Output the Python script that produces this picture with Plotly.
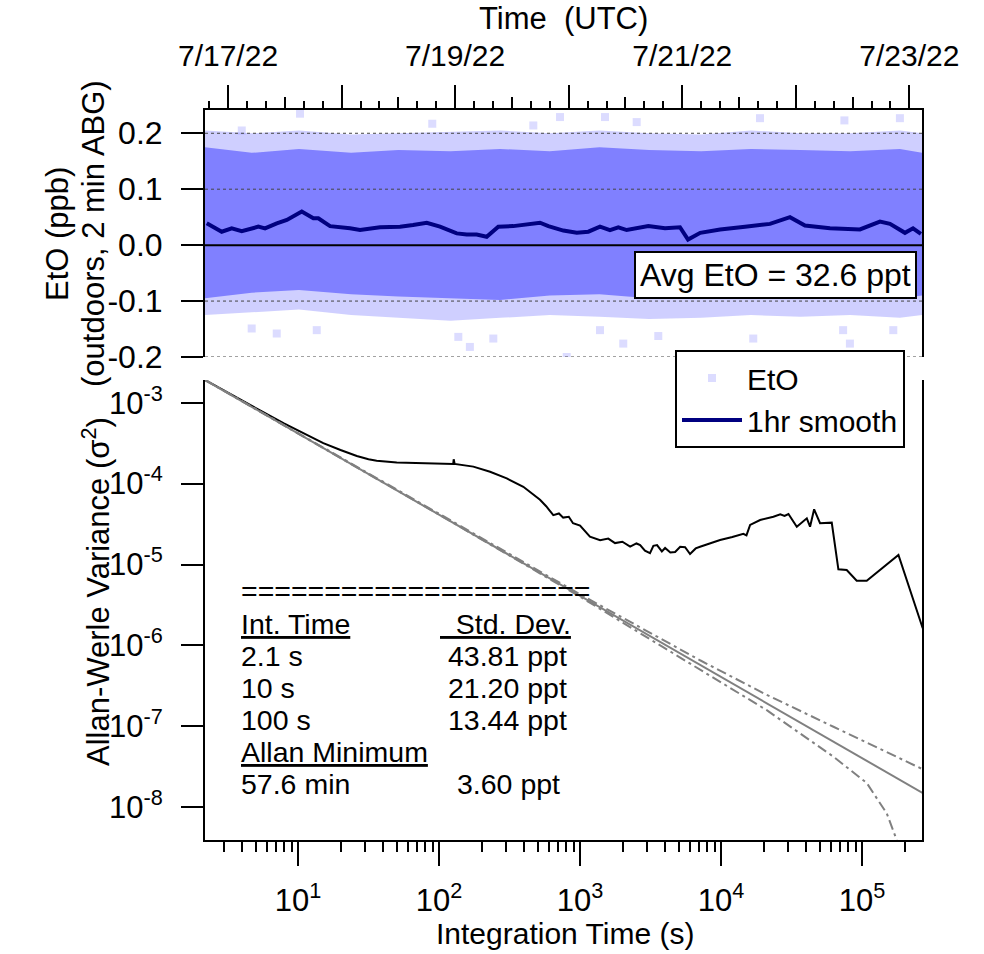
import plotly.graph_objects as go

# ---------------- data: top panel (EtO time series) ----------------
band_time = ["2022-07-16 19:08", "2022-07-17 05:00", "2022-07-17 15:00", "2022-07-18 02:00",
             "2022-07-18 12:00", "2022-07-18 23:00", "2022-07-19 09:30", "2022-07-19 20:00",
             "2022-07-20 06:30", "2022-07-20 17:00", "2022-07-21 04:00", "2022-07-21 14:30",
             "2022-07-22 01:00", "2022-07-22 11:30", "2022-07-22 22:00", "2022-07-23 02:40"]
core_hi = [0.175, 0.165, 0.172, 0.165, 0.170, 0.168, 0.172, 0.168,
           0.175, 0.170, 0.168, 0.172, 0.170, 0.168, 0.172, 0.165]
core_lo = [-0.095, -0.085, -0.080, -0.088, -0.092, -0.095, -0.098, -0.090,
           -0.088, -0.095, -0.092, -0.090, -0.088, -0.092, -0.095, -0.090]
fringe_hi = [0.205, 0.200, 0.205, 0.198, 0.200, 0.202, 0.205, 0.200,
             0.205, 0.200, 0.198, 0.205, 0.200, 0.200, 0.205, 0.200]
fringe_lo = [-0.125, -0.120, -0.115, -0.125, -0.130, -0.135, -0.130, -0.125,
             -0.128, -0.132, -0.130, -0.125, -0.128, -0.125, -0.130, -0.125]

outlier_time = ["2022-07-17 15:13", "2022-07-19 22:10", "2022-07-20 14:22", "2022-07-17 10:18",
                "2022-07-17 05:00", "2022-07-17 18:45", "2022-07-19 00:40", "2022-07-19 03:07",
                "2022-07-19 08:04", "2022-07-20 06:37", "2022-07-20 11:32", "2022-07-19 23:35",
                "2022-07-19 16:31", "2022-07-20 07:40", "2022-07-17 02:54", "2022-07-18 19:10",
                "2022-07-20 18:56", "2022-07-21 15:00", "2022-07-22 11:26", "2022-07-22 20:36",
                "2022-07-22 10:00", "2022-07-21 16:26", "2022-07-22 10:16", "2022-07-22 22:00"]
outlier_val = [0.235, 0.229, 0.220, -0.158, -0.149, -0.152, -0.164, -0.182,
               -0.167, -0.152, -0.176, -0.200, 0.214, 0.229, 0.205, 0.217,
               -0.1625, -0.167, -0.176, -0.152, -0.152, 0.227, 0.223, 0.227]

smooth_time = ["2022-07-16 19:30", "2022-07-16 22:40", "2022-07-17 00:47", "2022-07-17 02:54",
               "2022-07-17 06:24", "2022-07-17 07:49", "2022-07-17 10:18", "2022-07-17 12:26",
               "2022-07-17 15:35", "2022-07-17 18:02", "2022-07-17 19:05", "2022-07-17 21:34",
               "2022-07-18 01:47", "2022-07-18 03:54", "2022-07-18 08:07", "2022-07-18 12:21",
               "2022-07-18 15:06", "2022-07-18 18:00", "2022-07-18 20:48", "2022-07-19 00:20",
               "2022-07-19 02:27", "2022-07-19 04:33", "2022-07-19 06:40", "2022-07-19 09:07",
               "2022-07-19 12:17", "2022-07-19 15:49", "2022-07-19 17:56", "2022-07-19 19:42",
               "2022-07-19 22:52", "2022-07-20 01:42", "2022-07-20 04:09", "2022-07-20 06:37",
               "2022-07-20 08:43", "2022-07-20 10:29", "2022-07-20 12:16", "2022-07-20 16:50",
               "2022-07-20 20:21", "2022-07-20 23:31", "2022-07-21 01:13", "2022-07-21 03:48",
               "2022-07-21 08:00", "2022-07-21 13:16", "2022-07-21 18:32", "2022-07-21 22:46",
               "2022-07-22 01:56", "2022-07-22 07:13", "2022-07-22 13:33", "2022-07-22 17:47",
               "2022-07-22 19:54", "2022-07-22 23:04", "2022-07-23 00:46", "2022-07-23 02:26"]
smooth_val = [0.039, 0.024, 0.030, 0.025, 0.033, 0.030, 0.039, 0.045, 0.060, 0.048,
              0.048, 0.034, 0.030, 0.027, 0.032, 0.033, 0.036, 0.040, 0.033, 0.021,
              0.019, 0.019, 0.015, 0.033, 0.034, 0.038, 0.040, 0.034, 0.026, 0.022,
              0.024, 0.033, 0.027, 0.032, 0.027, 0.034, 0.030, 0.032, 0.010, 0.022,
              0.028, 0.033, 0.038, 0.050, 0.035, 0.030, 0.028, 0.042, 0.038, 0.022,
              0.030, 0.020]

# ---------------- data: bottom panel (Allan-Werle variance) ----------------
allan_tau = [2.19, 3.55, 5.62, 7.94, 11.2, 15.1, 20.0, 26.1, 31.6, 36.1, 50.1, 77.4, 112, 126, 127,
             129, 175, 230, 302, 396, 520, 575, 646, 708, 759, 832, 891, 1000, 1175, 1387,
             1585, 1770, 1995, 2265, 2512, 2667, 2884, 3133, 3311, 3516, 3802, 4009, 4365, 4721,
             5129, 5559, 6026, 6607, 7096, 8318, 9840, 12020, 14390, 15140, 16070, 18920, 21380,
             23500, 26300, 28180, 30060, 34440, 40550, 42760, 45710, 50350, 60950, 67920, 77800,
             91620, 107900, 181100, 269200]
allan_var = [1.905e-3, 1.189e-3, 7.67e-4, 5.56e-4, 4.07e-4, 3.16e-4, 2.60e-4, 2.19e-4, 2.00e-4,
             1.92e-4, 1.82e-4, 1.78e-4, 1.77e-4, 1.75e-4, 2.00e-4, 1.75e-4, 1.62e-4, 1.40e-4,
             1.16e-4, 9.12e-5, 6.31e-5, 5.25e-5, 4.07e-5, 4.27e-5, 3.80e-5, 3.89e-5, 3.24e-5,
             3.02e-5, 2.21e-5, 2.00e-5, 2.09e-5, 1.84e-5, 1.91e-5, 1.66e-5, 1.82e-5, 1.74e-5,
             1.48e-5, 1.38e-5, 1.70e-5, 1.74e-5, 1.45e-5, 1.60e-5, 1.41e-5, 1.43e-5, 1.66e-5,
             1.64e-5, 1.35e-5, 1.58e-5, 1.66e-5, 1.82e-5, 2.01e-5, 2.19e-5, 2.40e-5, 2.29e-5,
             3.09e-5, 3.55e-5, 3.72e-5, 3.89e-5, 4.17e-5, 3.98e-5, 4.21e-5, 2.93e-5, 3.72e-5,
             2.93e-5, 4.81e-5, 3.24e-5, 3.29e-5, 8.71e-6, 8.55e-6, 6.31e-6, 6.31e-6, 1.31e-5,
             1.63e-6]
white_tau = [2.19, 269200]
white_var = [1.905e-3, 1.5e-8]
upper_tau = [2.19, 100, 1000, 7096, 21090, 62660, 269200]
upper_var = [1.905e-3, 4.21e-5, 4.28e-6, 6.56e-7, 2.45e-7, 9.89e-8, 2.95e-8]
lower_tau = [2.19, 100, 1000, 7096, 21090, 62660, 107900, 149600, 176200]
lower_var = [1.905e-3, 4.13e-5, 4.0e-6, 5.01e-7, 1.585e-7, 4.22e-8, 2.00e-8, 8.41e-9, 3.94e-9]

# ---------------- ticks / labels ----------------
top_y_ticks = [0.2, 0.1, 0.0, -0.1, -0.2]
top_y_text = ["0.2", "0.1", "0.0", "-0.1", "-0.2"]
day_ticks = ["2022-07-17", "2022-07-18", "2022-07-19", "2022-07-20", "2022-07-21", "2022-07-22", "2022-07-23"]
day_text = ["7/17/22", "", "7/19/22", "", "7/21/22", "", "7/23/22"]
noon_ticks = ["2022-07-16 12:00", "2022-07-17 12:00", "2022-07-18 12:00", "2022-07-19 12:00",
              "2022-07-20 12:00", "2022-07-21 12:00", "2022-07-22 12:00"]
grid_vals = [0.2, 0.1, -0.1, -0.2]
bx_ticks = [10, 100, 1000, 10000, 100000]
bx_text = ["10<sup>1</sup>", "10<sup>2</sup>", "10<sup>3</sup>", "10<sup>4</sup>", "10<sup>5</sup>"]
bx_minor = [m * 10 ** e for e in range(0, 6) for m in range(2, 10)]
by_ticks = [1e-3, 1e-4, 1e-5, 1e-6, 1e-7, 1e-8]
by_text = ["10<sup>-3</sup>", "10<sup>-4</sup>", "10<sup>-5</sup>", "10<sup>-6</sup>",
           "10<sup>-7</sup>", "10<sup>-8</sup>"]

# text panel contents
table_left = ["=" * 21, "<u>Int. Time</u>", "2.1 s", "10 s", "100 s", "<u>Allan Minimum</u>", "57.6 min"]
table_right = ["", "<u>\u00a0\u00a0Std. Dev.</u>", "43.81 ppt", "21.20 ppt", "13.44 ppt", "", "3.60 ppt"]

FONT = "Liberation Sans, Arial, Helvetica, sans-serif"
W, H = 984, 954
L, R, T, B = 205, 62, 110, 114
PW, PH = W - L - R, H - T - B


def fx(px):
    return (px - L) / PW


def fy(py):
    return (H - B - py) / PH


fig = go.Figure()

# top panel: scatter cloud envelope
fig.add_trace(go.Scatter(x=band_time, y=fringe_hi, xaxis="x2", yaxis="y2", mode="lines",
                         line=dict(width=0), showlegend=False, hoverinfo="skip"))
fig.add_trace(go.Scatter(x=band_time, y=fringe_lo, xaxis="x2", yaxis="y2", mode="lines",
                         line=dict(width=0), fill="tonexty", fillcolor="rgba(128,128,255,0.38)",
                         showlegend=False, hoverinfo="skip"))
fig.add_trace(go.Scatter(x=band_time, y=core_hi, xaxis="x2", yaxis="y2", mode="lines",
                         line=dict(width=0), showlegend=False, hoverinfo="skip"))
fig.add_trace(go.Scatter(x=band_time, y=core_lo, xaxis="x2", yaxis="y2", mode="lines",
                         line=dict(width=0), fill="tonexty", fillcolor="rgb(128,128,255)",
                         showlegend=False, hoverinfo="skip"))
fig.add_trace(go.Scatter(x=outlier_time, y=outlier_val, xaxis="x2", yaxis="y2", mode="markers",
                         name="EtO", legendrank=1,
                         marker=dict(symbol="square", size=8,
                                     color="rgba(128,128,255,0.28)", line=dict(width=0))))
fig.add_trace(go.Scatter(x=smooth_time, y=smooth_val, xaxis="x3", yaxis="y2", mode="lines",
                         name="1hr smooth", legendrank=2, line=dict(color="#000080", width=4)))

# bottom panel
fig.add_trace(go.Scatter(x=allan_tau, y=allan_var, mode="lines", showlegend=False,
                         line=dict(color="black", width=2)))
fig.add_trace(go.Scatter(x=white_tau, y=white_var, mode="lines", showlegend=False,
                         line=dict(color="rgb(128,128,128)", width=2)))
fig.add_trace(go.Scatter(x=upper_tau, y=upper_var, mode="lines", showlegend=False,
                         line=dict(color="rgb(128,128,128)", width=2, dash="10px,4px,3px,4px")))
fig.add_trace(go.Scatter(x=lower_tau, y=lower_var, mode="lines", showlegend=False,
                         line=dict(color="rgb(128,128,128)", width=2, dash="10px,4px,3px,4px")))

axis_common = dict(showgrid=False, zeroline=False, ticks="outside", tickwidth=2, tickcolor="black",
                   showline=True, linewidth=2, linecolor="black",
                   tickfont=dict(family=FONT, size=31, color="black"))

t_range = ["2022-07-16 19:08", "2022-07-23 02:40"]
top_dom = [fy(357), 1.0]
bot_dom = [0.0, fy(380)]

fig.update_layout(
    width=W, height=H, margin=dict(l=L, r=R, t=T, b=B, pad=0),
    paper_bgcolor="white", plot_bgcolor="white",
    font=dict(family=FONT, size=30, color="black"),
    xaxis=dict(axis_common, type="log", range=[0.34, 5.425], anchor="y",
               tickvals=bx_ticks, ticktext=bx_text, ticklen=24, ticklabelstandoff=8,
               minor=dict(tickvals=bx_minor, ticks="outside", ticklen=10, tickwidth=2,
                          tickcolor="black", showgrid=False)),
    yaxis=dict(axis_common, type="log", range=[-8.404, -2.72], domain=bot_dom, anchor="x",
               tickvals=by_ticks, ticktext=by_text, ticklen=22, mirror=True, ticklabelstandoff=12),
    xaxis2=dict(axis_common, type="date", range=t_range, anchor="y2", side="top",
                tickvals=day_ticks, ticktext=day_text, ticklen=23, ticklabelstandoff=7,
                tickfont=dict(family=FONT, size=30, color="black"),
                minor=dict(dtick=4 * 3600 * 1000, tick0="2022-07-17", ticks="outside", ticklen=7,
                           tickwidth=2, tickcolor="black", showgrid=False)),
    xaxis3=dict(type="date", range=t_range, overlaying="x2", anchor="y2", side="top",
                tickvals=noon_ticks, ticks="outside", ticklen=12, tickwidth=2, tickcolor="black",
                showticklabels=False, showline=False, showgrid=False, zeroline=False),
    yaxis2=dict(axis_common, range=[-0.2, 0.2416], domain=top_dom, anchor="x2",
                tickvals=top_y_ticks, ticktext=top_y_text, ticklen=22, mirror=True,
                ticklabelstandoff=12, tickfont=dict(family=FONT, size=32, color="black")),
    legend=dict(x=fx(675), y=fy(350), xanchor="left", yanchor="top", bgcolor="white",
                bordercolor="black", borderwidth=2, font=dict(family=FONT, size=30),
                itemwidth=60, tracegroupgap=0, traceorder="normal"),
    showlegend=True,
)

shapes = []
for g in grid_vals:
    shapes.append(dict(type="line", xref="x2 domain", yref="y2", x0=0, x1=1, y0=g, y1=g,
                       line=dict(color="#444444", width=1, dash="3px,3px"), layer="above"))
shapes.append(dict(type="line", xref="x2 domain", yref="y2", x0=0, x1=1, y0=0, y1=0,
                   line=dict(color="black", width=2), layer="above"))
fig.update_layout(shapes=shapes)

ann = []


def txt(s, px, py, size=30, xanchor="left", angle=0, **kw):
    ann.append(dict(text=s, x=fx(px), y=fy(py), xref="paper", yref="paper", showarrow=False,
                    xanchor=xanchor, yanchor="middle", textangle=angle,
                    font=dict(family=FONT, size=size, color="black"), **kw))


txt("Time\u00a0\u00a0(UTC)", 563, 18, size=31, xanchor="center")
txt("Integration Time (s)", 565, 933, size=30, xanchor="center")
txt("EtO (ppb)", 58, 234, size=31, xanchor="center", angle=-90)
txt("(outdoors, 2 min ABG)", 94, 234, size=31, xanchor="center", angle=-90)
txt("Allan-Werle Variance (σ<sup>2</sup>)", 96, 592, size=31, xanchor="center", angle=-90)
txt("Avg EtO = 32.6 ppt", 775.5, 274.5, size=32, xanchor="center",
    bgcolor="white", bordercolor="black", borderwidth=2, borderpad=4)

left_x = 240
row_y = [590.7, 624, 656, 688, 720, 752, 784]
right_edge = [0, 572, 568, 568, 568, 0, 561]
for i, yv in enumerate(row_y):
    txt(table_left[i], left_x, yv, size=28.5, borderpad=0)
    if table_right[i]:
        txt(table_right[i], right_edge[i], yv, size=28.5, xanchor="right", borderpad=0)
fig.update_layout(annotations=ann)

fig.write_html("out.html")
